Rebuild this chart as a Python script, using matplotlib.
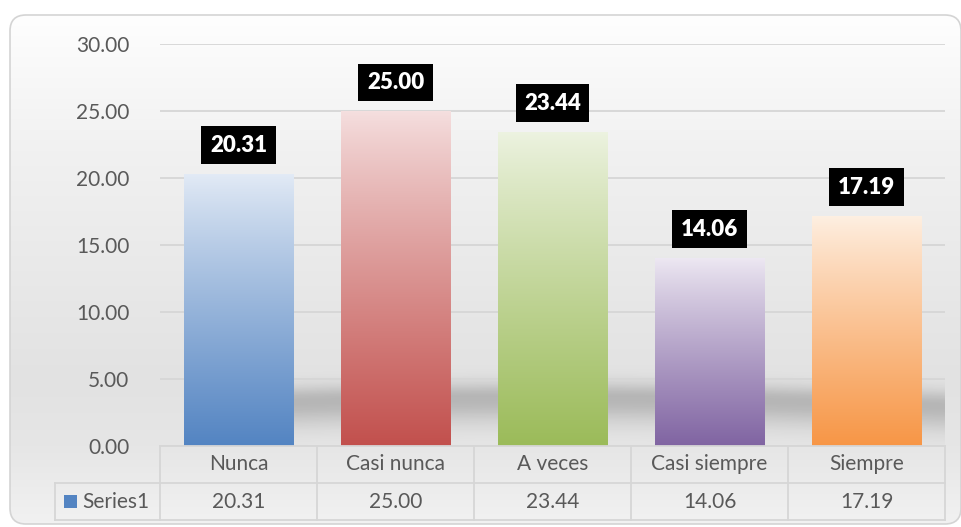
import numpy as np
import matplotlib
matplotlib.use('Agg')
import matplotlib.pyplot as plt
from matplotlib.patches import FancyBboxPatch, Rectangle
from matplotlib.colors import to_rgb

# datos de la encuesta (porcentajes)
categories = ["Nunca", "Casi nunca", "A veces", "Casi siempre", "Siempre"]
values = [20.31, 25.00, 23.44, 14.06, 17.19]
series_name = "Series1"
y_ticks = [0, 5, 10, 15, 20, 25, 30]

top_colors = ["#e3ebf6", "#f5dfdf", "#edf3e1", "#eee9f3", "#fef0e3"]
bottom_colors = ["#5384c2", "#c2504d", "#9bbb59", "#8064a2", "#f79646"]

W, H = 962, 527
plt.rcParams['font.family'] = ['Lato', 'DejaVu Sans']
TXT = "#595959"
GRID = "#d6d6d6"

fig = plt.figure(figsize=(W / 100, H / 100), dpi=100)
fig.patch.set_facecolor('white')

# fondo del area del grafico: degradado vertical dentro de un marco redondeado
bg = fig.add_axes([0, 0, 1, 1], zorder=-5)
bg.set_xlim(0, W)
bg.set_ylim(H, 0)
bg.axis('off')
stops_y = [15, 150, 300, 380, 446, 527]
stops_g = [254, 241, 231, 226, 230, 242]
rows = np.interp(np.arange(H), stops_y, stops_g) / 255.0
grad = np.repeat(rows[:, None], 2, axis=1)
frame = FancyBboxPatch((10, 15), 951, 509, boxstyle="round,pad=0,rounding_size=16",
                       facecolor='none', edgecolor="#d4d4d4", lw=1.2)
bg.add_patch(frame)
im = bg.imshow(np.dstack([grad, grad, grad]), extent=[0, W, H, 0], aspect='auto', zorder=0)
im.set_clip_path(frame)

# area de trazado
L, R, B, T = 160, 945, 446, 44
ax = fig.add_axes([L / W, (H - B) / H, (R - L) / W, (B - T) / H])
ax.set_facecolor('none')
x = np.arange(len(categories))

# sombra difusa detras de las columnas
sx = np.linspace(-0.5, 4.5, 400)
sy = np.linspace(0, 9, 240)
SX, SY = np.meshgrid(sx, sy)
centre = 3.0 + 0.6 * np.sin((SX + 0.5) / 5 * np.pi)
sigma = np.where(SY > centre, 1.1, 1.8)
alpha = 0.2 * np.exp(-((SY - centre) / sigma) ** 2)
alpha *= np.clip((SX + 0.3) / 0.5, 0, 1)
shadow = np.zeros(SX.shape + (4,))
shadow[..., 3] = alpha
ax.imshow(shadow, extent=[-0.5, 4.5, 0, 9], origin='lower', aspect='auto', zorder=0.5)

bars = ax.bar(x, values, width=0.70, color='none', edgecolor='none', zorder=2)
for bar, c_top, c_bot in zip(bars, top_colors, bottom_colors):
    t = np.linspace(0, 1, 256)[:, None] ** 0.9
    col = (1 - t) * np.array(to_rgb(c_top)) + t * np.array(to_rgb(c_bot))
    g = ax.imshow(col[:, None, :], aspect='auto', zorder=2,
                  extent=[bar.get_x(), bar.get_x() + bar.get_width(), 0, bar.get_height()])
    g.set_clip_path(bar)

for xi, v in zip(x, values):
    ax.annotate(f"{v:.2f}", (xi, v), xytext=(0, 20.5), textcoords='offset points',
                ha='center', va='center', color='white', fontsize=16, fontweight='heavy',
                bbox=dict(boxstyle='square,pad=0.38', facecolor='black', edgecolor='none'),
                zorder=5)

ax.set_xlim(-0.5, 4.5)
ax.set_ylim(0, 30)
ax.set_yticks(y_ticks)
ax.set_yticklabels([f"{t:.2f}" for t in y_ticks], fontsize=15, color=TXT)
ax.tick_params(axis='y', length=0, pad=22)
ax.set_xticks([])
ax.yaxis.grid(True, color=GRID, lw=1.3)
ax.set_axisbelow(True)
for s in ax.spines.values():
    s.set_visible(False)


# tabla de datos bajo el eje
def fy(py):
    return (B - py) / (B - T)


def fx(px):
    return (px - L) / (R - L)


row1_top, row1_bot, row2_bot = 446, 483, 520
line_kw = dict(transform=ax.transAxes, color=GRID, lw=1.3, clip_on=False, zorder=3)
ax.plot([0, 1], [fy(row1_top)] * 2, **line_kw)
ax.plot([fx(55), 1], [fy(row1_bot)] * 2, **line_kw)
ax.plot([fx(55), 1], [fy(row2_bot)] * 2, **line_kw)
ax.plot([fx(55)] * 2, [fy(row1_bot), fy(row2_bot)], **line_kw)
for k in range(len(categories) + 1):
    ax.plot([k / len(categories)] * 2, [fy(row1_top), fy(row2_bot)], **line_kw)

y1 = fy((row1_top + row1_bot) / 2)
y2 = fy((row1_bot + row2_bot) / 2)
for k, (cat, v) in enumerate(zip(categories, values)):
    cx = (k + 0.5) / len(categories)
    ax.text(cx, y1, cat, transform=ax.transAxes, ha='center', va='center',
            fontsize=15, color=TXT, clip_on=False)
    ax.text(cx, y2, f"{v:.2f}", transform=ax.transAxes, ha='center', va='center',
            fontsize=15, color=TXT, clip_on=False)

# clave de leyenda de la serie
key = Rectangle((fx(64), fy(508)), fx(77) - fx(64), fy(495) - fy(508),
                transform=ax.transAxes, facecolor=bottom_colors[0], edgecolor='none',
                clip_on=False, zorder=4)
ax.add_patch(key)
ax.text(fx(82), y2, series_name, transform=ax.transAxes, ha='left', va='center',
        fontsize=15, color=TXT, clip_on=False)

fig.savefig("out.png", dpi=100)
